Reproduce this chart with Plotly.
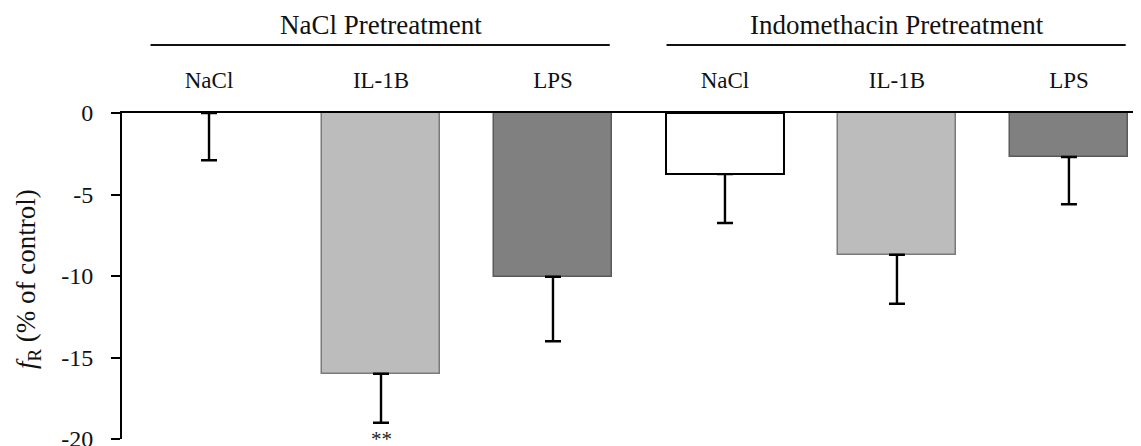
import plotly.graph_objects as go

# ---- data ----
categories = ["NaCl", "IL-1B", "LPS", "NaCl", "IL-1B", "LPS"]
groups = ["NaCl Pretreatment", "Indomethacin Pretreatment"]
group_members = [[0, 1, 2], [3, 4, 5]]
values = [0.0, -16.0, -10.05, -3.75, -8.7, -2.7]
errors = [2.9, 3.0, 3.95, 3.0, 3.0, 2.9]
significance = ["", "**", "", "", "", ""]
ytick_vals = [0, -5, -10, -15, -20]
ytick_text = ["0", "-5", "-10", "-15", "-20"]
ytitle = "<i>f</i><sub>R</sub> (% of control)"

# ---- style ----
fills = ["#ffffff", "#bcbcbc", "#808080", "#ffffff", "#bcbcbc", "#808080"]
edges = ["#000000", "#7a7a7a", "#5a5a5a", "#000000", "#7a7a7a", "#5a5a5a"]
edge_w = [0, 1.5, 1.5, 2, 1.5, 1.5]
FONT = "Liberation Serif"

# page body has ~8px default margin; compensate
W, H = 1133, 438
ML, MT, MB, MR = 114, 105, 7, 0
PLOT_H = H - MT - MB

xpos = list(range(len(categories)))

fig = go.Figure()
fig.add_trace(go.Bar(
    x=xpos, y=values, width=0.69,
    marker=dict(color=fills, line=dict(color=edges, width=edge_w)),
    error_y=dict(type="data", symmetric=False,
                 array=[0] * len(errors), arrayminus=errors,
                 color="black", thickness=2.4, width=8),
    showlegend=False, hoverinfo="skip",
))

# significance marks below the error bars
for i, s in enumerate(significance):
    if s:
        fig.add_annotation(x=xpos[i], y=values[i] - errors[i], text=s,
                           showarrow=False, yanchor="top", yshift=-2,
                           font=dict(family=FONT, size=21, color="#222"))

# group headers with underline
for g, members in zip(groups, group_members):
    cx = sum(members) / len(members)
    fig.add_annotation(x=cx, y=1, xref="x", yref="paper", text=g,
                       showarrow=False, yanchor="middle", yshift=88,
                       font=dict(family=FONT, size=27, color="#111"))
    yl = 1 + 68 / PLOT_H
    fig.add_shape(type="line", xref="x", yref="paper",
                  x0=members[0] - 0.34, x1=members[-1] + 0.33,
                  y0=yl, y1=yl, line=dict(color="#111", width=2))

# y axis title
fig.add_annotation(x=0, y=0.5, xref="paper", yref="paper", text=ytitle,
                   textangle=-90, showarrow=False, xanchor="center",
                   yanchor="middle", xshift=-94, yshift=-3,
                   font=dict(family=FONT, size=27, color="#111"))

fig.update_layout(
    width=W, height=H,
    margin=dict(l=ML, r=MR, t=MT, b=MB, autoexpand=False),
    paper_bgcolor="white", plot_bgcolor="white",
    font=dict(family=FONT, color="#111"),
    bargap=0,
    xaxis=dict(
        range=[-0.506, 5.419], side="top", automargin=False,
        tickvals=xpos, ticktext=categories,
        tickfont=dict(family=FONT, size=23, color="#111"),
        ticks="", ticklabelstandoff=14,
        showline=True, linecolor="black", linewidth=2,
        showgrid=False, zeroline=False,
    ),
    yaxis=dict(
        range=[-20, 0], automargin=False,
        tickvals=ytick_vals, ticktext=ytick_text,
        tickfont=dict(family=FONT, size=24, color="#111"),
        ticks="outside", ticklen=9, tickwidth=2, tickcolor="black",
        ticklabelstandoff=13, ticklabeloverflow="allow",
        showline=True, linecolor="black", linewidth=2,
        showgrid=False, zeroline=False,
    ),
)

fig.write_html("out.html")
